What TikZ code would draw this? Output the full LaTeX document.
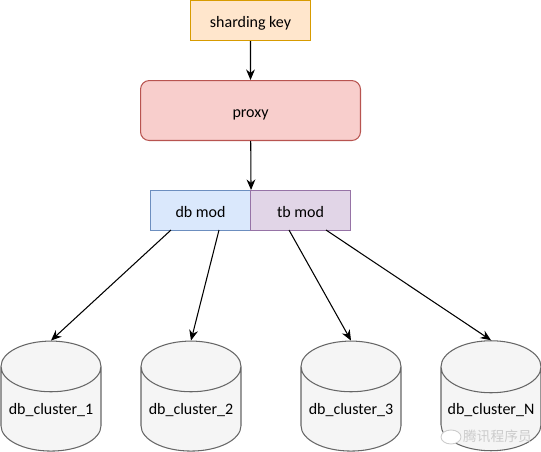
\documentclass[tikz,border=0pt]{standalone}
\usepackage{fontspec}
\setmainfont{Carlito}
\newfontfamily\cjkfont{Noto Sans CJK SC}
\usetikzlibrary{shapes.geometric,arrows.meta}
\definecolor{keyfill}{HTML}{FFE6CC}
\definecolor{keyline}{HTML}{D79B00}
\definecolor{proxyfill}{HTML}{F8CECC}
\definecolor{proxyline}{HTML}{B85450}
\definecolor{dbfill}{HTML}{DAE8FC}
\definecolor{dbline}{HTML}{6C8EBF}
\definecolor{tbfill}{HTML}{E1D5E7}
\definecolor{tbline}{HTML}{9673A6}
\definecolor{clusterfill}{HTML}{F5F5F5}
\definecolor{clusterline}{HTML}{666666}
\tikzset{
	box/.style={draw, line width=0.6pt, inner sep=0pt, anchor=north west, text height=8pt, text depth=0pt},
	link/.style={-{Stealth[length=6pt,width=5pt]}, black, line width=0.6pt},
	cluster/.style={cylinder, shape border rotate=90, draw=clusterline, line width=0.6pt,
		cylinder uses custom fill, cylinder body fill=clusterfill, cylinder end fill=clusterfill,
		shape aspect=0.6, minimum width=2cm, minimum height=2.2cm, inner sep=0pt, text height=6pt, text depth=0pt},
}
\begin{document}
\begin{tikzpicture}[x=0.02cm, y=-0.02cm, font=\fontsize{9.1}{10}\selectfont]
	
	\useasboundingbox (0,0) rectangle (541,451);
	
	% top of the chain
	\node[box, fill=keyfill, draw=keyline, minimum width=2.4cm, minimum height=0.8cm] (key) at (190,0) {sharding key};
	\node[box, fill=proxyfill, draw=proxyline, rounded corners=5pt, minimum width=4.4cm, minimum height=1.2cm] (proxy) at (140,80) {proxy};
	
	% mod boxes
	\node[box, fill=dbfill, draw=dbline, minimum width=2cm, minimum height=0.8cm] (dbmod) at (150,190) {db mod};
	\node[box, fill=tbfill, draw=tbline, minimum width=2cm, minimum height=0.8cm] (tbmod) at (250,190) {tb mod};
	
	\coordinate (dbmodA) at (171,230);
	\coordinate (dbmodB) at (219,230);
	\coordinate (tbmodA) at (289,230);
	\coordinate (tbmodB) at (326,230);
	
	% clusters
	\foreach \xx/\nm/\lb in {51/clusterA/db\_cluster\_1, 191/clusterB/db\_cluster\_2, 351/clusterC/db\_cluster\_3, 491/clusterD/db\_cluster\_N}{
		\node[cluster] (\nm) at (\xx,409) {\lb};
	}
	
	\draw[link] (key) -- (proxy);
	\draw[link] (proxy) -- (dbmod.north east);
	\draw[link] (dbmodA) -- (clusterA.north);
	\draw[link] (dbmodB) -- (clusterB.north);
	\draw[link] (tbmodA) -- (clusterC.north);
	\draw[link] (tbmodB) -- (clusterD.north);
	
	% watermark
	\node[draw=gray!40, fill=white, ellipse, line width=0.5pt, minimum width=0.4cm, minimum height=0.28cm, inner sep=0pt] (logo) at (451,437) {};
	\node[gray!40, font=\cjkfont\fontsize{7.8}{9}\selectfont] (mark) at (497.5,436) {腾讯程序员};
	
\end{tikzpicture}
\end{document}
